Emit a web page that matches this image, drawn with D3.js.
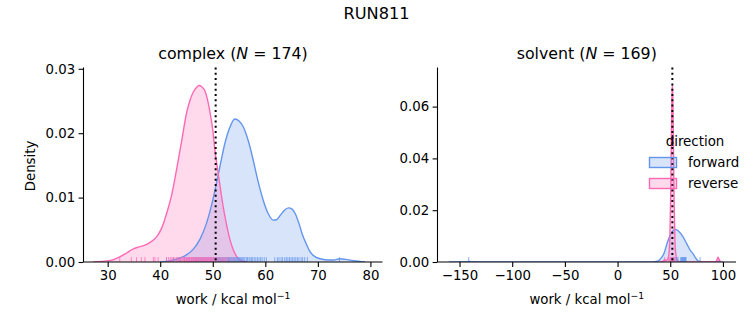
<!DOCTYPE html>
<html><head><meta charset="utf-8">
<script src="https://cdn.jsdelivr.net/npm/d3@7"></script>
<style>
body{margin:0;background:#fff;}
svg{font-family:"DejaVu Sans",sans-serif;}
</style></head>
<body><svg id="c" width="753" height="325"></svg>
<script>
// ---------- data ----------
const suptitle = "RUN811";
const panels = ["complex", "solvent"];
const panelN = [174, 169];
const directions = ["forward", "reverse"];
const colors = ["#6495ED", "#FF69B4"];

// KDE curves: [work, density]
const complexForwardKde = [[40,0],[42,0.0002],[43.7,0.0006],[45,0.0011],[46.3,0.002],[47.6,0.0036],[48.8,0.006],[49.8,0.0089],[50.7,0.0122],[51.5,0.0154],[52.3,0.0184],[53.2,0.0208],[54.2,0.0222],[55,0.0219],[55.8,0.021],[56.8,0.0187],[57.7,0.0158],[58.6,0.0126],[59.6,0.0096],[60.5,0.0076],[61.5,0.0065],[62.2,0.0066],[62.8,0.0072],[63.6,0.008],[64.4,0.0084],[65.1,0.0082],[65.7,0.0075],[66.4,0.006],[67,0.0044],[67.8,0.0028],[68.5,0.0016],[69.5,0.0008],[70.5,0.0005],[72,0.0003],[73,0.0003],[74.2,0.0005],[75.3,0.0004],[76.8,0.0002],[79,0]];
const complexReverseKde = [[27.2,0],[29,0.0001],[30.8,0.0003],[32.3,0.0008],[33.6,0.0014],[34.8,0.002],[35.8,0.0023],[36.7,0.0025],[38,0.003],[39.3,0.0039],[40.3,0.0053],[41.2,0.0075],[42.2,0.0105],[43.1,0.0143],[44.1,0.0189],[45,0.0231],[45.7,0.0252],[46.3,0.0264],[46.9,0.0271],[47.4,0.0274],[47.9,0.0272],[48.5,0.0266],[49,0.0252],[49.5,0.0231],[50,0.0205],[50.4,0.0174],[50.9,0.0145],[51.4,0.0117],[52,0.0085],[52.7,0.0055],[53.3,0.0034],[53.9,0.0019],[54.6,0.0008],[55.2,0.0003],[56.5,0]];
const solventForwardKde = [[-160,0],[-145,0.0001],[-141,0.0002],[-137,0.0001],[-120,0],[30,0],[36.8,0.0002],[40,0.0009],[44,0.0033],[47.8,0.0082],[51,0.0112],[54.8,0.0126],[58,0.0119],[62,0.0098],[66,0.0068],[69,0.0045],[71.6,0.0032],[74,0.0016],[76,0.0006],[78,0.0002],[82,0],[100,0]];
const solventReverseKde = [[40,0],[43.5,0.0003],[44.7,0.0009],[46,0.0006],[47.5,0.001],[48.7,0.003],[49.6,0.009],[50.4,0.025],[51.1,0.05],[51.6,0.0645],[52,0.0685],[52.4,0.0645],[52.9,0.05],[53.6,0.025],[54.4,0.009],[55.3,0.003],[56.5,0.001],[58,0.0002],[62,0],[93,0],[94.5,0.001],[95.4,0.0019],[96.3,0.001],[98,0]];

// rug observations (work values)
const complexForwardRug = [41.2,42.5,43.4,43.8,44.6,45.1,45.5,46.0,46.3,46.7,47.0,47.3,47.6,47.9,48.2,48.5,48.8,49.1,49.3,49.6,49.8,50.1,50.3,50.5,50.7,50.9,51.1,51.3,51.5,51.7,51.9,52.1,52.3,52.5,52.7,52.9,53.0,53.2,53.4,53.6,53.8,54.0,54.1,54.3,54.5,54.7,54.9,55.1,55.3,55.5,55.7,55.9,56.1,56.4,56.6,56.9,57.1,57.4,57.6,57.9,58.2,58.5,58.8,59.1,59.4,59.8,60.2,61.8,62.3,62.6,63.0,63.3,63.7,64.0,64.3,64.6,64.9,65.2,65.5,65.8,66.1,66.4,66.8,67.1,67.5,68.0,74.1];
const complexReverseRug = [32.3,34.5,35.5,36.4,37.1,38.7,39.0,39.6,41.2,41.6,41.9,42.2,42.5,42.8,43.1,43.4,43.6,43.8,44.0,44.2,44.4,44.6,44.8,45.0,45.1,45.3,45.4,45.6,45.7,45.9,46.0,46.2,46.3,46.5,46.6,46.8,46.9,47.1,47.2,47.4,47.5,47.7,47.8,48.0,48.1,48.3,48.4,48.6,48.7,48.9,49.0,49.2,49.3,49.5,49.6,49.8,49.9,50.1,50.3,50.5,50.7,51.0,51.2,51.5,51.8,52.1,52.4,52.8,53.2,54.0];
const solventForwardRug = [-141.3,50.6,52.1,53.3,54.6,56.0,57.4,60.0,60.5,61.0,61.5,62.0,62.5,63.0,63.5,64.0,64.5,65.0,78.3];
const solventReverseRug = [44.7,48.6,49.6,50.5,51.2,51.8,52.3,52.8,53.5,54.2,95.4];

const complexMarker = 50.55;
const solventMarker = 52.0;

const complexXTicks = [30,40,50,60,70,80];
const complexYTicks = [0,0.01,0.02,0.03];
const solventXTicks = [-150,-100,-50,0,50,100];
const solventYTicks = [0,0.02,0.04,0.06];

// ---------- layout ----------
const svg = d3.select("#c");
const tickFont = 13.3;
const frames = [
  {x0:83.5, x1:382.5, y0:67.5, y1:262, xd:[25.4,82.3], yd:[0,0.0302], xt:complexXTicks, yt:complexYTicks, yfmt:d3.format(".2f"),
   kdes:[complexForwardKde, complexReverseKde], rugs:[complexForwardRug, complexReverseRug], marker:complexMarker},
  {x0:437.5, x1:736, y0:67.5, y1:262, xd:[-170.9,112.4], yd:[0,0.0751], xt:solventXTicks, yt:solventYTicks, yfmt:d3.format(".2f"),
   kdes:[solventForwardKde, solventReverseKde], rugs:[solventForwardRug, solventReverseRug], marker:solventMarker}
];

svg.append("text").attr("x",376.5).attr("y",19).attr("text-anchor","middle")
  .attr("font-size",16.2).attr("fill","#000").text(suptitle);

frames.forEach((f,i)=>{
  const x = d3.scaleLinear().domain(f.xd).range([f.x0,f.x1]);
  const y = d3.scaleLinear().domain(f.yd).range([f.y1,f.y0]);
  const g = svg.append("g");
  const area = d3.area().x(d=>x(d[0])).y0(y(0)).y1(d=>y(d[1])).curve(d3.curveMonotoneX);
  const line = d3.line().x(d=>x(d[0])).y(d=>y(d[1])).curve(d3.curveMonotoneX);
  const clip = "clip"+i;
  svg.append("clipPath").attr("id",clip).append("rect")
    .attr("x",f.x0).attr("y",f.y0).attr("width",f.x1-f.x0).attr("height",f.y1-f.y0);
  const pg = g.append("g").attr("clip-path",`url(#${clip})`);
  f.kdes.forEach((k,j)=>{
    pg.append("path").datum(k).attr("d",area).attr("fill",colors[j]).attr("fill-opacity",0.25).attr("stroke","none");
  });
  f.kdes.forEach((k,j)=>{
    pg.append("path").datum(k).attr("d",line).attr("fill","none").attr("stroke",colors[j]).attr("stroke-width",1.4);
  });
  f.rugs.forEach((r,j)=>{
    pg.selectAll(null).data(r).enter().append("line")
      .attr("x1",d=>x(d)).attr("x2",d=>x(d)).attr("y1",f.y1).attr("y2",f.y1-4.9)
      .attr("stroke",colors[j]).attr("stroke-opacity",0.75).attr("stroke-width",1);
  });
  g.append("line").attr("x1",x(f.marker)).attr("x2",x(f.marker)).attr("y1",f.y0).attr("y2",f.y1)
    .attr("stroke","#000").attr("stroke-width",2).attr("stroke-dasharray","2,3.3");

  const xa = g.append("g").attr("transform",`translate(0,${f.y1})`)
    .call(d3.axisBottom(x).tickValues(f.xt).tickSize(4.9).tickPadding(3.5).tickFormat(d=>d<0?"\u2212"+Math.abs(d):d));
  const ya = g.append("g").attr("transform",`translate(${f.x0},0)`)
    .call(d3.axisLeft(y).tickValues(f.yt).tickSize(4.9).tickPadding(3.5).tickFormat(f.yfmt));
  [xa,ya].forEach(a=>{
    a.selectAll(".tick line").attr("stroke","#000").attr("stroke-width",1.1);
    a.selectAll("text").attr("font-size",tickFont).attr("font-family","DejaVu Sans").attr("fill","#000");
  });
  xa.select(".domain").remove();
  ya.select(".domain").remove();
  g.append("line").attr("x1",f.x0).attr("x2",f.x1).attr("y1",f.y1).attr("y2",f.y1).attr("stroke","#000").attr("stroke-width",1.1);
  g.append("line").attr("x1",f.x0).attr("x2",f.x0).attr("y1",f.y0).attr("y2",f.y1).attr("stroke","#000").attr("stroke-width",1.1);

  const cx = (f.x0+f.x1)/2;
  const t = g.append("text").attr("x",cx).attr("y",59).attr("text-anchor","middle").attr("font-size",15.8).attr("fill","#000");
  t.append("tspan").text(panels[i]+" (");
  t.append("tspan").attr("font-style","italic").text("N");
  t.append("tspan").text(" = "+panelN[i]+")");

  const xl = g.append("text").attr("x",cx).attr("y",304).attr("text-anchor","middle").attr("font-size",tickFont).attr("fill","#000");
  xl.append("tspan").text("work / kcal mol");
  xl.append("tspan").attr("font-size",tickFont*0.7).attr("dy",-5.5).text("\u22121");
});

svg.append("text").attr("transform","translate(35,166) rotate(-90)").attr("text-anchor","middle")
  .attr("font-size",tickFont).attr("fill","#000").text("Density");

// legend
const lg = svg.append("g");
lg.append("text").attr("x",695).attr("y",146).attr("text-anchor","middle").attr("font-size",13.4).attr("fill","#000").text("direction");
directions.forEach((d,j)=>{
  const yy = 157.5 + j*21;
  lg.append("rect").attr("x",649.5).attr("y",yy).attr("width",27).attr("height",10)
    .attr("fill",colors[j]).attr("fill-opacity",0.25).attr("stroke",colors[j]).attr("stroke-width",1.4);
  lg.append("text").attr("x",688).attr("y",yy+9).attr("font-size",13.4).attr("fill","#000").text(d);
});
</script></body></html>
